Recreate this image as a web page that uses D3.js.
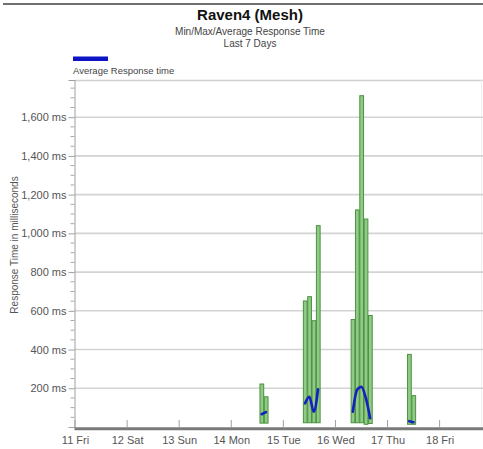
<!DOCTYPE html>
<html>
<head>
<meta charset="utf-8">
<script src="https://cdnjs.cloudflare.com/ajax/libs/d3/7.8.5/d3.min.js"></script>
<style>
  html, body { margin: 0; padding: 0; background: #fff; }
  svg { display: block; font-family: Arial, "Liberation Sans", sans-serif; }
</style>
</head>
<body>
<svg id="chart" width="483" height="449"></svg>
<script>
// ---- data ----
const title = "Raven4 (Mesh)";
const subtitle1 = "Min/Max/Average Response Time";
const subtitle2 = "Last 7 Days";
const legendLabel = "Average Response time";
const yAxisTitle = "Response Time in milliseconds";

const dayTicks = ["2011-02-11","2011-02-12","2011-02-13","2011-02-14","2011-02-15","2011-02-16","2011-02-17","2011-02-18"];
const dayLabels = ["11 Fri","12 Sat","13 Sun","14 Mon","15 Tue","16 Wed","17 Thu","18 Fri"];
const domainStart = "2011-02-11T00:00";
const domainEnd = "2011-02-18T20:00";

// two-hour bins
const binStarts = [
  "2011-02-14T13:00","2011-02-14T15:00",
  "2011-02-15T09:00","2011-02-15T11:00","2011-02-15T13:00","2011-02-15T15:00",
  "2011-02-16T07:00","2011-02-16T09:00","2011-02-16T11:00","2011-02-16T13:00","2011-02-16T15:00",
  "2011-02-17T09:00","2011-02-17T11:00"
];
const maxValues = [222, 156, 651, 673, 549, 1040, 555, 1121, 1711, 1074, 576, 375, 162];
const minValues = [20, 20, 22, 22, 22, 22, 22, 22, 22, 14, 18, 14, 14];
const avgValues = [66, 77, 122, 156, 79, 195, 79, 193, 207, 150, 45, 30, 25];
const groups = [0, 0, 1, 1, 1, 1, 2, 2, 2, 2, 2, 3, 3];

const yMajor = [200, 400, 600, 800, 1000, 1200, 1400, 1600];
const yMinor = d3.range(50, 1800, 50);

// ---- drawing ----
(function () {
const svg = d3.select("#chart");
const parse = d3.timeParse("%Y-%m-%dT%H:%M");
const parseDay = d3.timeParse("%Y-%m-%d");
const pLeft = 74.5, pRight = 483, pTop = 80, pBottom = 427;

const x = d3.scaleTime().domain([parse(domainStart), parse(domainEnd)]).range([75, pRight]);
const y = d3.scaleLinear().domain([0, 1792]).range([pBottom, pTop]);

// top frame line
svg.append("line").attr("x1", 3).attr("x2", 483).attr("y1", 4).attr("y2", 4)
  .attr("stroke", "#707070").attr("stroke-width", 2);

// titles
svg.append("text").attr("x", 250).attr("y", 20).attr("text-anchor", "middle")
  .attr("font-size", 15).attr("font-weight", "bold").attr("fill", "#111").text(title);
svg.append("text").attr("x", 250).attr("y", 35).attr("text-anchor", "middle")
  .attr("font-size", 10).attr("fill", "#444").text(subtitle1);
svg.append("text").attr("x", 250).attr("y", 46.5).attr("text-anchor", "middle")
  .attr("font-size", 10).attr("fill", "#444").text(subtitle2);

// legend
svg.append("rect").attr("x", 73).attr("y", 56.5).attr("width", 35).attr("height", 4.5).attr("fill", "#0c14c4");
svg.append("text").attr("x", 73).attr("y", 74).attr("font-size", 9.5).attr("fill", "#444").text(legendLabel);

// plot frame
svg.append("line").attr("x1", pLeft).attr("x2", 483).attr("y1", pTop + 0.5).attr("y2", pTop + 0.5)
  .attr("stroke", "#cfcfcf").attr("stroke-width", 1.5);
svg.append("line").attr("x1", 481.5).attr("x2", 481.5).attr("y1", pTop).attr("y2", pBottom)
  .attr("stroke", "#eeeeee").attr("stroke-width", 1);

// gridlines
svg.append("g").selectAll("line").data(yMajor).join("line")
  .attr("x1", pLeft).attr("x2", 483).attr("y1", d => y(d)).attr("y2", d => y(d))
  .attr("stroke", "#d3d3d3").attr("stroke-width", 1.6);

// y axis
const yAxis = d3.axisLeft(y).tickValues(yMajor).tickSize(6).tickPadding(2)
  .tickFormat(d => d3.format(",")(d) + " ms");
const gy = svg.append("g").attr("transform", `translate(${pLeft},0)`).call(yAxis);
gy.select(".domain").attr("stroke", "#a0a0a0");
gy.selectAll(".tick line").attr("stroke", "#a0a0a0");
gy.selectAll(".tick text").attr("font-size", 11).attr("fill", "#555").attr("font-family", "Arial, 'Liberation Sans', sans-serif");
svg.append("g").selectAll("line").data(yMinor.filter(v => !yMajor.includes(v))).join("line")
  .attr("x1", pLeft - 4).attr("x2", pLeft).attr("y1", d => y(d)).attr("y2", d => y(d))
  .attr("stroke", "#a8a8a8").attr("stroke-width", 1);

// y axis title
svg.append("text").attr("transform", "translate(18,245) rotate(-90)")
  .attr("text-anchor", "middle").attr("font-size", 10).attr("fill", "#555").text(yAxisTitle);

// bars
const bins = binStarts.map((s, i) => {
  const t0 = parse(s);
  const t1 = d3.timeHour.offset(t0, 2);
  return { t0, t1, mid: d3.timeHour.offset(t0, 1), max: maxValues[i], min: minValues[i], avg: avgValues[i], g: groups[i] };
});
svg.append("g").selectAll("rect").data(bins).join("rect")
  .attr("x", d => x(d.t0) + 0.5)
  .attr("width", d => x(d.t1) - x(d.t0) - 0.6)
  .attr("y", d => y(d.max))
  .attr("height", d => y(d.min) - y(d.max))
  .attr("fill", "#8fca86").attr("stroke", "#4c9240").attr("stroke-width", 1);

// average line (one segment per contiguous group)
const line = d3.line().x(d => x(d.mid)).y(d => y(d.avg)).curve(d3.curveMonotoneX);
const grouped = d3.groups(bins, d => d.g).map(g => g[1]);
svg.append("g").selectAll("path").data(grouped).join("path")
  .attr("d", line).attr("fill", "none").attr("stroke", "#1420c0").attr("stroke-width", 2.6)
  .attr("stroke-linecap", "round");

// x axis
svg.append("line").attr("x1", pLeft).attr("x2", 483).attr("y1", 428.8).attr("y2", 428.8)
  .attr("stroke", "#7a7a7a").attr("stroke-width", 3);
const xAxis = d3.axisBottom(x).tickValues(dayTicks.map(parseDay))
  .tickSize(0).tickPadding(0).tickFormat((d, i) => dayLabels[i]);
const gx = svg.append("g").attr("transform", `translate(0,${pBottom})`).call(xAxis);
gx.select(".domain").remove();
gx.selectAll(".tick text").attr("dy", null).attr("y", 16.5).attr("font-size", 11)
  .attr("fill", "#555").attr("font-family", "Arial, 'Liberation Sans', sans-serif");
svg.append("g").selectAll("line").data(dayTicks.map(parseDay)).join("line")
  .attr("x1", d => x(d)).attr("x2", d => x(d)).attr("y1", 420).attr("y2", 427)
  .attr("stroke", "#a0a0a0").attr("stroke-width", 1);
})();
</script>
</body>
</html>
